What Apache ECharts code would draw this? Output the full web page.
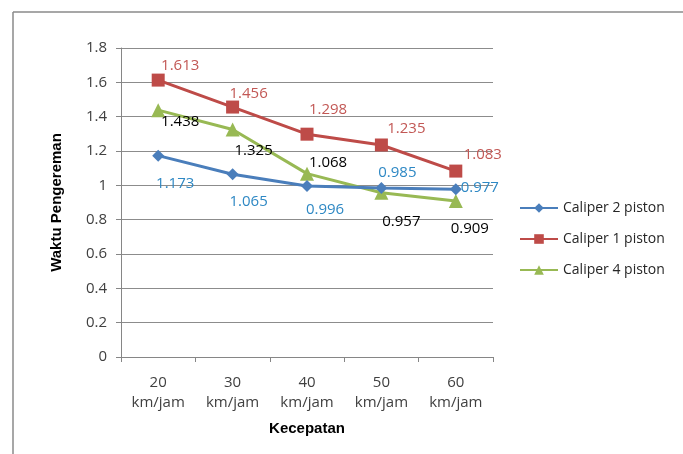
<!DOCTYPE html>
<html>
<head>
<meta charset="utf-8">
<script src="https://cdn.jsdelivr.net/npm/echarts@6/dist/echarts.min.js"></script>
<style>
  html, body { margin: 0; padding: 0; background: #ffffff; }
  #chart { width: 683px; height: 454px; }
</style>
</head>
<body>
<div id="chart"></div>
<script>
// Braking time per speed for three caliper types
const categories = ['20\nkm/jam', '30\nkm/jam', '40\nkm/jam', '50\nkm/jam', '60\nkm/jam'];
const caliper2 = [1.173, 1.065, 0.996, 0.985, 0.977];
const caliper1 = [1.613, 1.456, 1.298, 1.235, 1.083];
const caliper4 = [1.438, 1.325, 1.068, 0.957, 0.909];
const yTicks = [0, 0.2, 0.4, 0.6, 0.8, 1, 1.2, 1.4, 1.6, 1.8];

// Label nudges (pixels, relative to each point) so labels sit clear of the lines
const nudge2 = [[17, 28], [16, 28], [18, 24], [16, -15], [24, -2]];
const nudge1 = [[22, -14], [16, -13], [21, -24], [25, -16], [27, -16]];
const nudge4 = [[22, 12], [21, 21], [21, -11], [20, 29], [14, 28]];

const FONT = 'Open Sans, Liberation Sans, sans-serif';

function withLabels(values, nudges, color) {
  return values.map((v, i) => ({
    value: v,
    label: {
      show: true,
      position: 'inside',
      offset: nudges[i],
      color: color,
      fontSize: 15,
      fontFamily: FONT,
      formatter: (p) => String(p.value)
    }
  }));
}

const chart = echarts.init(document.getElementById('chart'), null, { renderer: 'canvas' });

const axisFont = { fontSize: 15, color: '#404040', fontFamily: FONT };

chart.setOption({
  animation: false,
  backgroundColor: '#ffffff',
  graphic: [
    { type: 'line', shape: { x1: 13, y1: 12, x2: 683, y2: 12 }, style: { stroke: '#8a8a8a', lineWidth: 1.5 } },
    { type: 'line', shape: { x1: 13, y1: 12, x2: 13, y2: 454 }, style: { stroke: '#8a8a8a', lineWidth: 1.5 } }
  ],
  grid: { left: 121, right: 190, top: 48, bottom: 97 },
  legend: {
    orient: 'vertical',
    left: 514,
    top: 196,
    itemGap: 17,
    itemWidth: 38,
    itemHeight: 12,
    textStyle: { fontSize: 14, color: '#262626', fontFamily: FONT },
    data: ['Caliper 2 piston', 'Caliper 1 piston', 'Caliper 4 piston']
  },
  xAxis: {
    type: 'category',
    data: categories,
    boundaryGap: true,
    name: 'Kecepatan',
    nameLocation: 'middle',
    nameGap: 64,
    nameTextStyle: { fontSize: 15, fontWeight: 'bold', color: '#000000', fontFamily: 'Liberation Sans, Arial, sans-serif' },
    axisLine: { lineStyle: { color: '#868686' } },
    axisTick: { show: true, length: 5, lineStyle: { color: '#868686' } },
    axisLabel: Object.assign({ margin: 16, lineHeight: 20 }, axisFont)
  },
  yAxis: {
    type: 'value',
    min: 0,
    max: 1.8,
    interval: 0.2,
    name: 'Waktu Pengereman',
    nameLocation: 'middle',
    nameGap: 57,
    nameTextStyle: { fontSize: 15, fontWeight: 'bold', color: '#000000', fontFamily: 'Liberation Sans, Arial, sans-serif' },
    axisLine: { show: true, lineStyle: { color: '#868686' } },
    axisTick: { show: true, length: 5, lineStyle: { color: '#868686' } },
    splitLine: { lineStyle: { color: '#8c8c8c', width: 1 } },
    axisLabel: Object.assign({
      margin: 14,
      formatter: (v) => {
        const t = yTicks.find((y) => Math.abs(y - v) < 1e-9);
        return t === undefined ? '' : String(t);
      }
    }, axisFont)
  },
  series: [
    {
      name: 'Caliper 2 piston',
      type: 'line',
      data: withLabels(caliper2, nudge2, '#2E88C4'),
      symbol: 'diamond',
      symbolSize: 12,
      color: '#4A7EBB',
      lineStyle: { width: 3, color: '#4A7EBB' },
      itemStyle: { color: '#4A7EBB' },
      z: 3
    },
    {
      name: 'Caliper 1 piston',
      type: 'line',
      data: withLabels(caliper1, nudge1, '#C25855'),
      symbol: 'rect',
      symbolSize: 13,
      color: '#BE4B48',
      lineStyle: { width: 3, color: '#BE4B48' },
      itemStyle: { color: '#BE4B48' },
      z: 4
    },
    {
      name: 'Caliper 4 piston',
      type: 'line',
      data: withLabels(caliper4, nudge4, '#000000'),
      symbol: 'triangle',
      symbolSize: 14,
      color: '#98B954',
      lineStyle: { width: 3, color: '#98B954' },
      itemStyle: { color: '#98B954' },
      z: 2
    }
  ]
});
</script>
</body>
</html>
